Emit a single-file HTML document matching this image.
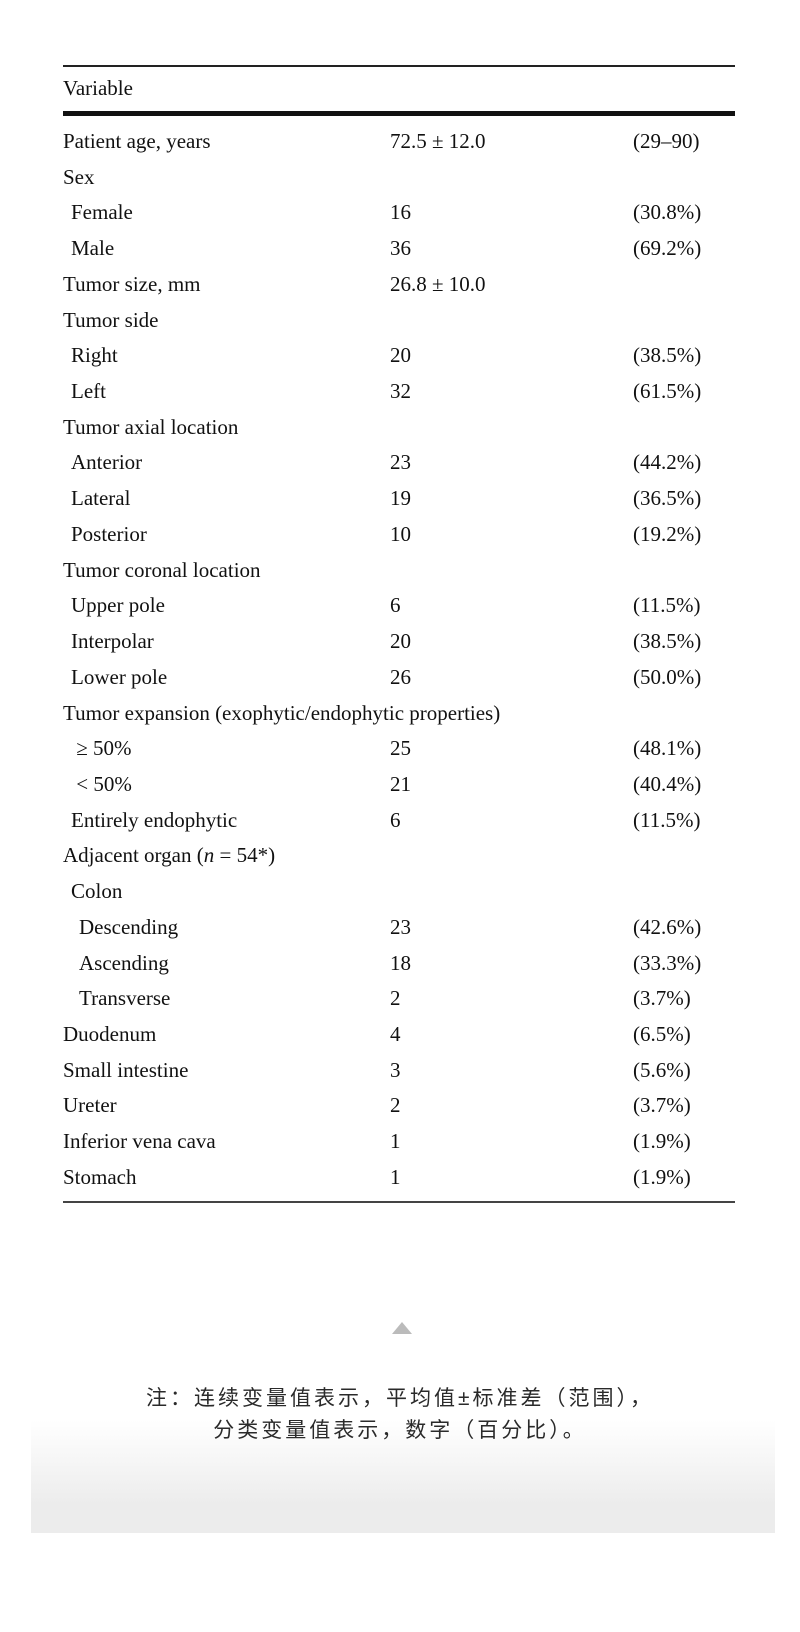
<!DOCTYPE html>
<html><head><meta charset="utf-8"><style>
body{margin:0;width:800px;height:1632px;background:#fff;position:relative;overflow:hidden;font-family:"Liberation Serif",serif;color:#111}
.l{position:absolute;left:63px;width:672px;background:#222}
.r{position:absolute;left:63px;font-size:21px;line-height:36px;height:36px;white-space:nowrap}
.r span{position:absolute;top:0}
.v{left:327px}.p{left:570px}
.cn{position:absolute;left:0;width:800px;text-align:center;font-family:"Liberation Sans","Noto Sans CJK SC",sans-serif;font-size:21px;letter-spacing:3px;color:#2a2a2a}
</style></head><body>
<div class="l" style="top:65px;height:2px"></div>
<div class="r" style="top:70px"><span style="left:0">Variable</span></div>
<div class="l" style="top:111px;height:5px;background:#111"></div>
<div id="rows"></div>
<div class="l" style="top:1201px;height:2px;background:#444"></div>
<div style="position:absolute;left:392px;top:1322px;width:0;height:0;border-left:10px solid transparent;border-right:10px solid transparent;border-bottom:12px solid #bbb"></div>
<div style="position:absolute;left:31px;top:1420px;width:744px;height:113px;background:linear-gradient(#fff,#ececec 75%)"></div>
<div class="cn" style="top:1382px">注：连续变量值表示，平均值±标准差（范围），</div>
<div class="cn" style="top:1414px">分类变量值表示，数字（百分比）。</div>
<script>
var d=[["Patient age, years","72.5 ± 12.0","(29–90)",0],["Sex","","",0],["Female","16","(30.8%)",1],["Male","36","(69.2%)",1],["Tumor size, mm","26.8 ± 10.0","",0],["Tumor side","","",0],["Right","20","(38.5%)",1],["Left","32","(61.5%)",1],["Tumor axial location","","",0],["Anterior","23","(44.2%)",1],["Lateral","19","(36.5%)",1],["Posterior","10","(19.2%)",1],["Tumor coronal location","","",0],["Upper pole","6","(11.5%)",1],["Interpolar","20","(38.5%)",1],["Lower pole","26","(50.0%)",1],["Tumor expansion (exophytic/endophytic properties)","","",0],["&nbsp;≥ 50%","25","(48.1%)",1],["&nbsp;&lt; 50%","21","(40.4%)",1],["Entirely endophytic","6","(11.5%)",1],["Adjacent organ (<i>n</i> = 54*)","","",0],["Colon","","",1],["Descending","23","(42.6%)",2],["Ascending","18","(33.3%)",2],["Transverse","2","(3.7%)",2],["Duodenum","4","(6.5%)",0],["Small intestine","3","(5.6%)",0],["Ureter","2","(3.7%)",0],["Inferior vena cava","1","(1.9%)",0],["Stomach","1","(1.9%)",0]];
var h="";d.forEach(function(r,i){h+='<div class="r" style="top:'+(123+i*35.72)+'px"><span style="left:'+(r[3]*8)+'px">'+r[0]+'</span><span class="v">'+r[1]+'</span><span class="p">'+r[2]+'</span></div>';});
document.getElementById("rows").innerHTML=h;
</script>
</body></html>
